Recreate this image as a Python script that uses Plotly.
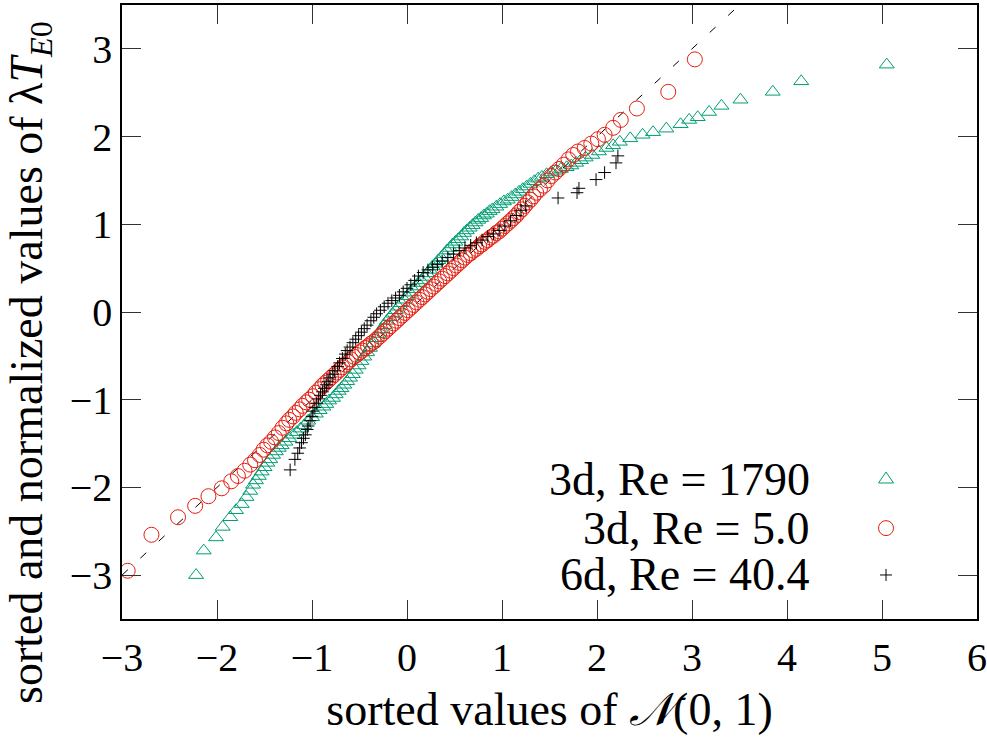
import plotly.graph_objects as go

# --- data (sorted N(0,1) quantiles vs sorted normalized values) ---
re1790_x = [-2.22, -2.14, -2.01, -1.94, -1.86, -1.80, -1.74, -1.69, -1.65, -1.62, -1.59, -1.56,
            -1.53, -1.50, -1.47, -1.44, -1.41, -1.38, -1.35, -1.32, -1.28, -1.24, -1.20, -1.16,
            -1.12, -1.08, -1.04, -1.00, -0.96, -0.92, -0.88, -0.85, -0.82, -0.78, -0.75, -0.72,
            -0.69, -0.66, -0.63, -0.60, -0.57, -0.54, -0.51, -0.48, -0.45, -0.42, -0.39, -0.36,
            -0.33, -0.30, -0.27, -0.24, -0.21, -0.18, -0.15, -0.12, -0.09, -0.06, -0.03, 0.00,
            0.03, 0.06, 0.09, 0.12, 0.15, 0.18, 0.21, 0.24, 0.27, 0.30, 0.33, 0.36,
            0.39, 0.42, 0.45, 0.48, 0.51, 0.54, 0.57, 0.60, 0.63, 0.66, 0.69, 0.72,
            0.75, 0.78, 0.81, 0.84, 0.87, 0.90, 0.94, 0.98, 1.02, 1.06, 1.10, 1.14,
            1.18, 1.22, 1.26, 1.30, 1.34, 1.38, 1.42, 1.47, 1.52, 1.57, 1.62, 1.68,
            1.73, 1.78, 1.83, 1.88, 1.95, 2.02, 2.10, 2.17, 2.24, 2.35, 2.48, 2.59,
            2.73, 2.88, 2.97, 3.06, 3.18, 3.31, 3.51, 3.85, 4.15, 5.05]
re1790_y = [-3.00, -2.72, -2.57, -2.45, -2.34, -2.26, -2.19, -2.11, -2.04, -1.97, -1.92, -1.87,
            -1.82, -1.77, -1.72, -1.68, -1.63, -1.59, -1.55, -1.52, -1.48, -1.44, -1.40, -1.37,
            -1.33, -1.29, -1.24, -1.20, -1.16, -1.12, -1.08, -1.05, -1.01, -0.98, -0.94, -0.90,
            -0.87, -0.83, -0.79, -0.75, -0.71, -0.66, -0.61, -0.56, -0.51, -0.46, -0.41, -0.36,
            -0.30, -0.25, -0.20, -0.15, -0.10, -0.06, -0.02, 0.02, 0.06, 0.10, 0.14, 0.18,
            0.22, 0.26, 0.29, 0.33, 0.36, 0.40, 0.44, 0.48, 0.52, 0.55, 0.59, 0.62,
            0.66, 0.70, 0.73, 0.77, 0.80, 0.83, 0.86, 0.90, 0.93, 0.96, 0.99, 1.02,
            1.05, 1.07, 1.10, 1.12, 1.15, 1.17, 1.20, 1.23, 1.26, 1.28, 1.31, 1.34,
            1.37, 1.40, 1.43, 1.46, 1.49, 1.52, 1.54, 1.57, 1.59, 1.61, 1.63, 1.65,
            1.67, 1.70, 1.73, 1.76, 1.79, 1.83, 1.87, 1.90, 1.94, 1.98, 2.02, 2.05,
            2.09, 2.14, 2.19, 2.22, 2.28, 2.35, 2.42, 2.51, 2.63, 2.82]

re5_x = [-2.94, -2.69, -2.41, -2.23, -2.09, -1.95, -1.85, -1.78, -1.71, -1.65, -1.60, -1.55,
         -1.51, -1.47, -1.43, -1.39, -1.35, -1.31, -1.27, -1.24, -1.20, -1.17, -1.13, -1.10,
         -1.06, -1.03, -0.99, -0.96, -0.92, -0.89, -0.86, -0.83, -0.80, -0.77, -0.74, -0.71,
         -0.68, -0.65, -0.62, -0.59, -0.56, -0.53, -0.50, -0.47, -0.44, -0.41, -0.38, -0.35,
         -0.32, -0.29, -0.26, -0.23, -0.20, -0.17, -0.14, -0.11, -0.08, -0.05, -0.02, 0.01,
         0.04, 0.07, 0.10, 0.13, 0.16, 0.19, 0.22, 0.25, 0.28, 0.31, 0.34, 0.37,
         0.40, 0.43, 0.46, 0.49, 0.52, 0.55, 0.58, 0.61, 0.64, 0.67, 0.70, 0.73,
         0.76, 0.79, 0.82, 0.85, 0.88, 0.91, 0.94, 0.97, 1.00, 1.03, 1.06, 1.09,
         1.12, 1.15, 1.18, 1.21, 1.24, 1.27, 1.30, 1.33, 1.36, 1.40, 1.44, 1.48,
         1.52, 1.56, 1.60, 1.65, 1.70, 1.75, 1.80, 1.87, 1.94, 2.01, 2.08, 2.17,
         2.25, 2.42, 2.75, 3.03]
re5_y = [-2.95, -2.54, -2.34, -2.21, -2.10, -2.01, -1.93, -1.87, -1.81, -1.74, -1.69, -1.63,
         -1.57, -1.52, -1.48, -1.43, -1.38, -1.32, -1.27, -1.23, -1.19, -1.15, -1.11, -1.07,
         -1.03, -1.00, -0.96, -0.92, -0.88, -0.84, -0.81, -0.78, -0.75, -0.72, -0.69, -0.66,
         -0.63, -0.60, -0.57, -0.54, -0.51, -0.49, -0.46, -0.44, -0.41, -0.39, -0.36, -0.34,
         -0.31, -0.28, -0.25, -0.22, -0.19, -0.16, -0.13, -0.10, -0.07, -0.04, -0.01, 0.02,
         0.05, 0.08, 0.11, 0.14, 0.17, 0.20, 0.23, 0.26, 0.29, 0.32, 0.35, 0.38,
         0.41, 0.44, 0.47, 0.50, 0.53, 0.56, 0.59, 0.62, 0.65, 0.67, 0.70, 0.72,
         0.75, 0.77, 0.80, 0.82, 0.85, 0.87, 0.90, 0.92, 0.95, 0.98, 1.01, 1.04,
         1.07, 1.10, 1.14, 1.17, 1.21, 1.25, 1.28, 1.32, 1.36, 1.40, 1.44, 1.50,
         1.55, 1.59, 1.63, 1.68, 1.74, 1.79, 1.83, 1.87, 1.92, 1.97, 2.02, 2.10,
         2.19, 2.32, 2.51, 2.88]

re404_x = [-1.23, -1.18, -1.15, -1.13, -1.11, -1.09, -1.07, -1.05, -1.04, -1.02, -1.00, -0.99,
           -0.97, -0.95, -0.93, -0.91, -0.89, -0.87, -0.85, -0.83, -0.81, -0.78, -0.76, -0.73,
           -0.71, -0.68, -0.65, -0.63, -0.60, -0.57, -0.54, -0.51, -0.48, -0.45, -0.42, -0.38,
           -0.35, -0.32, -0.28, -0.24, -0.20, -0.16, -0.12, -0.08, -0.04, 0.00, 0.04, 0.08,
           0.12, 0.17, 0.22, 0.27, 0.32, 0.37, 0.43, 0.49, 0.55, 0.61, 0.67, 0.73,
           0.79, 0.85, 0.91, 0.97, 1.03, 1.09, 1.15, 1.20, 1.25, 1.59, 1.79, 1.81,
           1.99, 2.08, 2.20, 2.22]
re404_y = [-1.80, -1.68, -1.61, -1.55, -1.49, -1.44, -1.40, -1.34, -1.30, -1.24, -1.19, -1.13,
           -1.09, -1.04, -0.99, -0.95, -0.91, -0.87, -0.83, -0.79, -0.75, -0.71, -0.67, -0.62,
           -0.58, -0.53, -0.48, -0.44, -0.40, -0.35, -0.31, -0.27, -0.23, -0.19, -0.15, -0.10,
           -0.06, -0.02, 0.02, 0.06, 0.10, 0.13, 0.16, 0.19, 0.23, 0.27, 0.31, 0.36,
           0.41, 0.45, 0.48, 0.51, 0.54, 0.58, 0.62, 0.66, 0.70, 0.73, 0.76, 0.79,
           0.82, 0.86, 0.89, 0.93, 0.98, 1.04, 1.10, 1.16, 1.21, 1.30, 1.36, 1.41,
           1.51, 1.59, 1.70, 1.78]

# reference line y = x
ref_x = [-3.0, 3.5]
ref_y = [-3.0, 3.5]

x_ticks = [-3, -2, -1, 0, 1, 2, 3, 4, 5, 6]
y_ticks = [-3, -2, -1, 0, 1, 2, 3]

labels = ["3d, Re = 1790", "3d, Re = 5.0", "6d, Re = 40.4"]
GREEN = "#009e73"
RED = "#e51e10"
FONT = "Liberation Serif"

fig = go.Figure()

fig.add_trace(go.Scatter(
    x=ref_x, y=ref_y, mode="lines",
    line=dict(color="black", width=1, dash="8px,17px"),
    showlegend=False, hoverinfo="skip",
))
fig.add_trace(go.Scatter(
    x=re1790_x, y=re1790_y, mode="markers", name=labels[0],
    marker=dict(symbol="triangle-up-open", size=13, color=GREEN, line=dict(width=1, color=GREEN)),
))
fig.add_trace(go.Scatter(
    x=re5_x, y=re5_y, mode="markers", name=labels[1],
    marker=dict(symbol="circle-open", size=15, color=RED, line=dict(width=1, color=RED)),
))
fig.add_trace(go.Scatter(
    x=re404_x, y=re404_y, mode="markers", name=labels[2],
    marker=dict(symbol="cross-thin-open", size=9, color="black", line=dict(width=1, color="black")),
))

# gnuplot-style key: right-aligned text, symbol on the right
key_rows = [0.228, 0.148, 0.0717]
key_x = 0.8936
for lab, yy in zip(labels, key_rows):
    fig.add_annotation(
        x=0.807, y=yy, xref="paper", yref="paper", text=lab, showarrow=False,
        xanchor="right", yanchor="middle", font=dict(family=FONT, size=46, color="black"),
    )
fig.add_shape(type="path", xref="paper", yref="paper", xsizemode="pixel", ysizemode="pixel",
              xanchor=key_x, yanchor=key_rows[0], path="M-7.5,-4 L7.5,-4 L0,7 Z",
              line=dict(color=GREEN, width=1))
fig.add_shape(type="circle", xref="paper", yref="paper", xsizemode="pixel", ysizemode="pixel",
              xanchor=key_x, yanchor=key_rows[1], x0=-7.5, x1=7.5, y0=-7.5, y1=7.5,
              line=dict(color=RED, width=1))
fig.add_shape(type="path", xref="paper", yref="paper", xsizemode="pixel", ysizemode="pixel",
              xanchor=key_x, yanchor=key_rows[2], path="M-6,0 L6,0 M0,-6 L0,6",
              line=dict(color="black", width=1))

# y title sits a little below the axis centre in the reference, so place it by hand
fig.add_annotation(
    x=-0.1076, y=0.417, xref="paper", yref="paper", textangle=-90, showarrow=False,
    xanchor="center", yanchor="middle",
    text="sorted and normalized values of λ<i>T</i><sub><i>E</i>0</sub>",
    font=dict(family=FONT, size=46, color="black"),
)

axis_common = dict(
    showgrid=False, zeroline=False, showline=True, linecolor="black", linewidth=1.5,
    mirror="ticks", ticks="inside", ticklen=19, tickwidth=1, tickcolor="#333333",
    tickfont=dict(family=FONT, size=40, color="black"),
)
fig.update_xaxes(
    range=[-3, 6], tickvals=x_ticks, ticklabelstandoff=2,
    title=dict(text="sorted values of <i>𝒩</i>(0, 1)",
               font=dict(family=FONT, size=46, color="black"), standoff=14),
    **axis_common,
)
fig.update_yaxes(
    range=[-3.5, 3.5], tickvals=y_ticks, ticklabelstandoff=0,
    **axis_common,
)
fig.update_layout(
    width=987, height=741,
    margin=dict(l=122, r=10, t=5, b=122, autoexpand=False),
    plot_bgcolor="white", paper_bgcolor="white",
    showlegend=False,
)

fig.write_html("out.html", config={"displayModeBar": False},
               post_script="document.body.style.margin='0px';")
